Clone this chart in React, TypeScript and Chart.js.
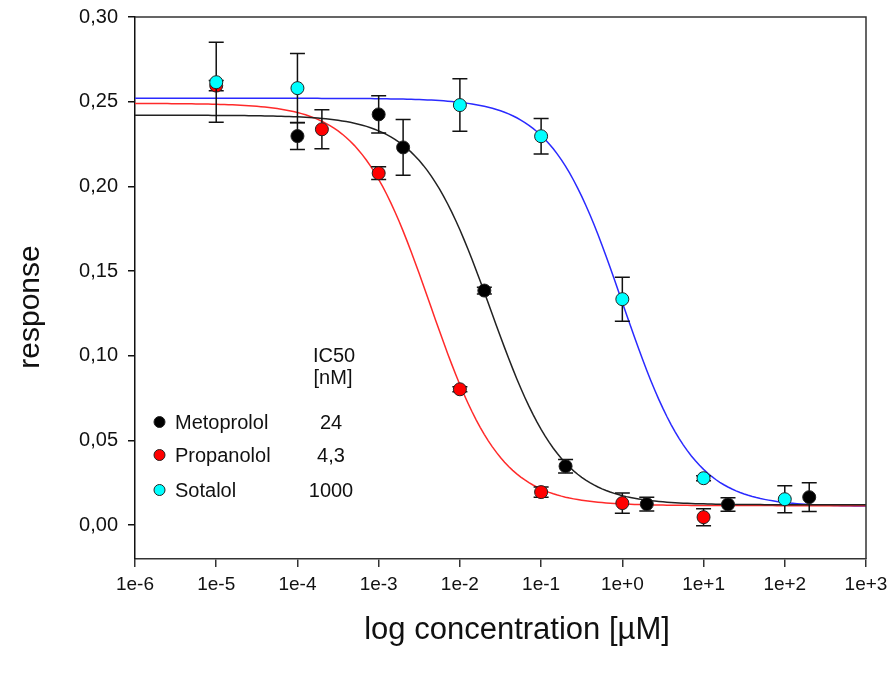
import { useEffect, useRef } from 'react';
import { Chart, registerables } from 'chart.js';

Chart.register(...registerables);

// ---- axis ticks ----
const xTickValues = [1e-6, 1e-5, 1e-4, 1e-3, 1e-2, 1e-1, 1e0, 1e1, 1e2, 1e3];
const xTickLabels = ['1e-6', '1e-5', '1e-4', '1e-3', '1e-2', '1e-1', '1e+0', '1e+1', '1e+2', '1e+3'];
const yTickValues = [0, 0.05, 0.1, 0.15, 0.2, 0.25, 0.3];
const yTickLabels = ['0,00', '0,05', '0,10', '0,15', '0,20', '0,25', '0,30'];
const xTitle = 'log concentration [µM]';
const yTitle = 'response';

// ---- measured data (concentration in µM) ----
const metoprololConc = [1e-4, 1e-3, 2e-3, 2e-2, 2e-1, 2e0, 2e1, 2e2];
const metoprololResp = [0.2297, 0.2425, 0.223, 0.1385, 0.0348, 0.0124, 0.0122, 0.0165];
const metoprololErr = [0.008, 0.011, 0.0165, 0.002, 0.004, 0.004, 0.004, 0.0085];

const propanololConc = [1e-5, 2e-4, 1e-3, 1e-2, 1e-1, 1e0, 1e1];
const propanololResp = [0.2595, 0.2337, 0.2078, 0.0802, 0.0195, 0.013, 0.0047];
const propanololErr = [0.003, 0.0115, 0.0038, 0.0015, 0.003, 0.006, 0.005];

const sotalolConc = [1e-5, 1e-4, 1e-2, 1e-1, 1e0, 1e1, 1e2];
const sotalolResp = [0.2615, 0.258, 0.248, 0.2296, 0.1334, 0.0277, 0.0153];
const sotalolErr = [0.0236, 0.0205, 0.0155, 0.0105, 0.013, 0.0015, 0.008];

// ---- legend / fit parameters ----
const drugNames = ['Metoprolol', 'Propanolol', 'Sotalol'];
const ic50Labels = ['24', '4,3', '1000'];
const drugColors = ['#000000', '#ff0000', '#00ffff'];
const curveColors = ['#222222', '#ff2a2a', '#2a2aff'];
const fitTop = [0.242, 0.249, 0.252];
const fitBottom = [0.012, 0.0115, 0.011];
const fitIC50uM = [0.024, 0.0043, 1.0];
const fitHill = [1, 1, 1];

const FONT = "'Liberation Sans', Arial, sans-serif";

function fitCurve(i: number) {
  const pts: { x: number; y: number }[] = [];
  for (let k = 0; k <= 180; k++) {
    const lx = -6 + k * 0.05;
    const c = Math.pow(10, lx);
    const y = fitBottom[i] + (fitTop[i] - fitBottom[i]) / (1 + Math.pow(c / fitIC50uM[i], fitHill[i]));
    pts.push({ x: c, y });
  }
  return pts;
}

function toPoints(xs: number[], ys: number[]) {
  return xs.map((x, i) => ({ x, y: ys[i] }));
}

export default function App() {
  const ref = useRef<HTMLCanvasElement | null>(null);

  useEffect(() => {
    if (!ref.current) return;

    const pointSets = [
      { conc: metoprololConc, resp: metoprololResp, err: metoprololErr },
      { conc: propanololConc, resp: propanololResp, err: propanololErr },
      { conc: sotalolConc, resp: sotalolResp, err: sotalolErr },
    ];
    const pointOrders = [3, 2, 1];

    const datasets: any[] = [];
    pointSets.forEach((s, i) => {
      datasets.push({
        label: drugNames[i],
        data: toPoints(s.conc, s.resp),
        errors: s.err,
        isPoints: true,
        showLine: false,
        pointRadius: 6.5,
        pointHoverRadius: 6.5,
        pointBackgroundColor: drugColors[i],
        pointBorderColor: '#222',
        pointBorderWidth: 1,
        order: pointOrders[i],
      });
    });
    for (let i = 0; i < 3; i++) {
      datasets.push({
        label: drugNames[i] + ' fit',
        data: fitCurve(i),
        showLine: true,
        pointRadius: 0,
        borderColor: curveColors[i],
        borderWidth: 1.5,
        tension: 0,
        order: 10,
      });
    }

    const errorBarPlugin = {
      id: 'errorBars',
      beforeDatasetDraw(chart: any, args: any) {
        const ds = chart.data.datasets[args.index];
        if (!ds.isPoints) return;
        const xs = chart.scales.x;
        const ys = chart.scales.y;
        const ctx = chart.ctx;
        ctx.save();
        ctx.strokeStyle = '#111';
        ctx.lineWidth = 1.5;
        ds.data.forEach((p: any, j: number) => {
          const e = ds.errors[j];
          const px = xs.getPixelForValue(p.x);
          const y1 = ys.getPixelForValue(p.y + e);
          const y2 = ys.getPixelForValue(p.y - e);
          ctx.beginPath();
          ctx.moveTo(px, y1);
          ctx.lineTo(px, y2);
          ctx.moveTo(px - 7.5, y1);
          ctx.lineTo(px + 7.5, y1);
          ctx.moveTo(px - 7.5, y2);
          ctx.lineTo(px + 7.5, y2);
          ctx.stroke();
        });
        ctx.restore();
      },
    };

    const framePlugin = {
      id: 'frameAndLegend',
      afterDraw(chart: any) {
        const { ctx, chartArea } = chart;
        const { left, top, right, bottom } = chartArea;
        ctx.save();
        ctx.strokeStyle = '#333';
        ctx.lineWidth = 1.5;
        ctx.beginPath();
        ctx.moveTo(left, top);
        ctx.lineTo(right, top);
        ctx.lineTo(right, bottom);
        ctx.stroke();

        // axis titles
        ctx.fillStyle = '#111';
        ctx.font = `31px ${FONT}`;
        ctx.textAlign = 'center';
        ctx.textBaseline = 'alphabetic';
        ctx.fillText(xTitle, 517, bottom + 80);
        ctx.font = `30px ${FONT}`;
        ctx.save();
        ctx.translate(39, 307);
        ctx.rotate(-Math.PI / 2);
        ctx.fillText(yTitle, 0, 0);
        ctx.restore();

        // legend
        ctx.fillStyle = '#111';
        ctx.font = `20px ${FONT}`;
        ctx.textBaseline = 'middle';
        ctx.textAlign = 'center';
        ctx.fillText('IC50', left + 199, top + 339);
        ctx.fillText('[nM]', left + 198, top + 361);
        const rowDy = [405, 438, 473];
        for (let i = 0; i < 3; i++) {
          const cy = top + rowDy[i];
          ctx.beginPath();
          ctx.arc(left + 24.5, cy, 5.5, 0, Math.PI * 2);
          ctx.fillStyle = drugColors[i];
          ctx.fill();
          ctx.lineWidth = 1;
          ctx.strokeStyle = '#222';
          ctx.stroke();
          ctx.fillStyle = '#111';
          ctx.textAlign = 'left';
          ctx.fillText(drugNames[i], left + 40, cy + 1);
          ctx.textAlign = 'center';
          ctx.fillText(ic50Labels[i], left + 196, cy + 1);
        }
        ctx.restore();
      },
    };

    const chart = new Chart(ref.current, {
      type: 'scatter',
      data: { datasets },
      plugins: [errorBarPlugin, framePlugin],
      options: {
        responsive: false,
        animation: false,
        layout: { padding: { left: 0, top: 17, right: 28, bottom: 0 } },
        plugins: { legend: { display: false }, tooltip: { enabled: false } },
        scales: {
          x: {
            type: 'logarithmic',
            min: 1e-6,
            max: 1e3,
            afterBuildTicks: (scale: any) => {
              scale.ticks = xTickValues.map((v) => ({ value: v }));
            },
            afterFit: (scale: any) => {
              scale.height = 114;
            },
            ticks: {
              autoSkip: false,
              maxRotation: 0,
              padding: 6,
              color: '#111',
              font: { family: FONT, size: 19 },
              callback: (_v: any, i: number) => xTickLabels[i],
            },
            grid: { display: true, drawOnChartArea: false, drawTicks: true, tickLength: 8, color: '#333', lineWidth: 1.5 },
            border: { display: true, color: '#333', width: 1.5 },
          },
          y: {
            type: 'linear',
            min: -0.02,
            max: 0.3,
            afterBuildTicks: (scale: any) => {
              scale.ticks = yTickValues.map((v) => ({ value: v }));
            },
            afterFit: (scale: any) => {
              scale.width = 135;
            },
            ticks: {
              padding: 10,
              color: '#111',
              font: { family: FONT, size: 20, lineHeight: 0.5 },
              callback: (_v: any, i: number) => yTickLabels[i],
            },
            grid: { display: true, drawOnChartArea: false, drawTicks: true, tickLength: 7, color: '#111', lineWidth: 1.5 },
            border: { display: true, color: '#111', width: 1.5 },
          },
        },
      } as any,
    });

    return () => chart.destroy();
  }, []);

  return (
    <div style={{ position: 'absolute', left: 0, top: 0, width: 894, height: 673, background: '#fff' }}>
      <canvas ref={ref} width={894} height={673} />
    </div>
  );
}
